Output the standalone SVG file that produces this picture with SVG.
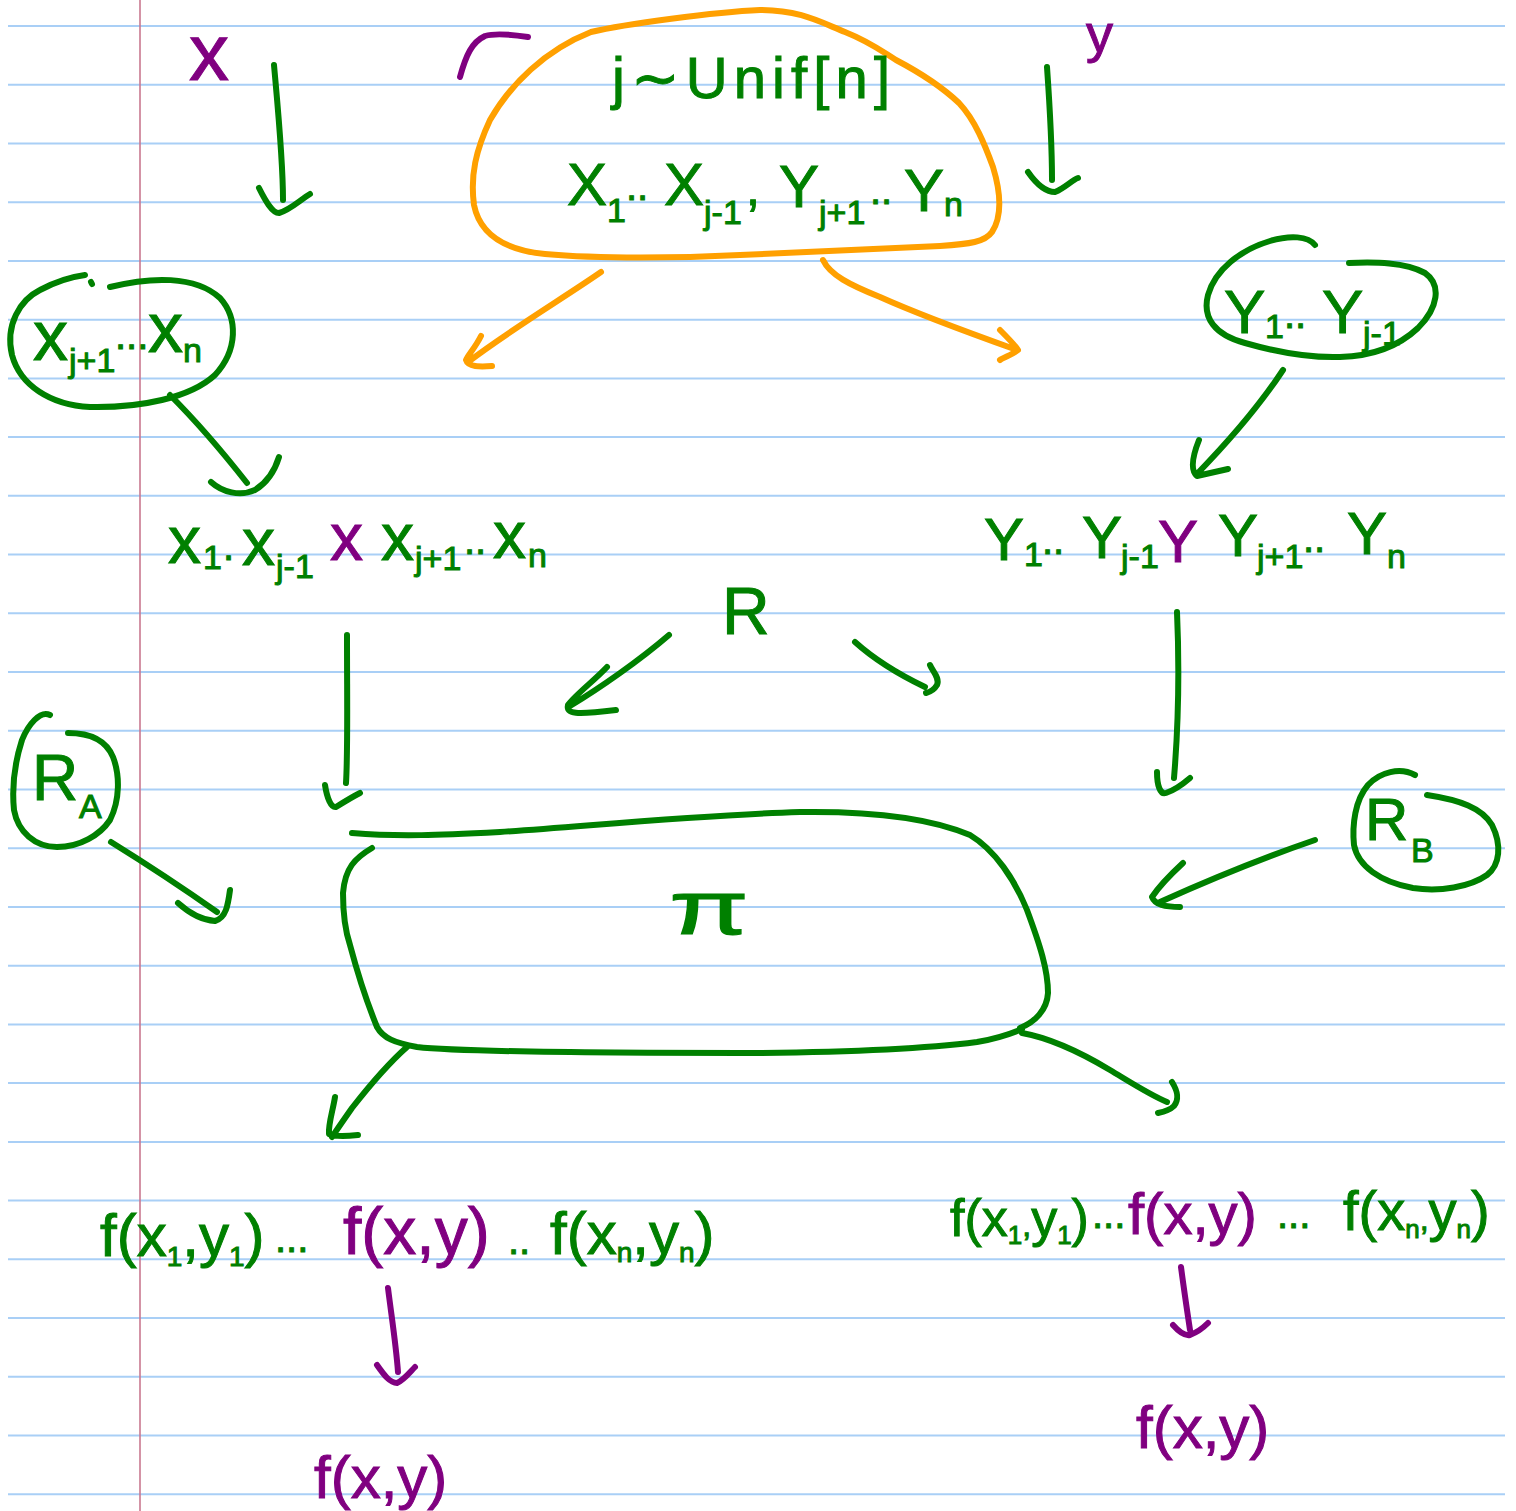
<svg xmlns="http://www.w3.org/2000/svg" width="1516" height="1511" viewBox="0 0 1516 1511">
<style>
.rule{stroke:#a9cff6;stroke-width:2}
.margin{stroke:#c97890;stroke-width:1.6}
.g{stroke:#008000;stroke-width:6;fill:none;stroke-linecap:round;stroke-linejoin:round}
.o{stroke:#ffa000;stroke-width:6;fill:none;stroke-linecap:round;stroke-linejoin:round}
.p{stroke:#800080;stroke-width:6;fill:none;stroke-linecap:round;stroke-linejoin:round}
text{font-family:"Liberation Sans","DejaVu Sans",Arial,sans-serif}
.tg{fill:#008000;stroke:#008000;stroke-width:1}
.tp{fill:#800080;stroke:#800080;stroke-width:1}
.sub{font-size:34px}
</style>
<rect width="1516" height="1511" fill="#ffffff"/>
<g id="paper">
<path class="rule" d="M8,26H1505M8,84.7H1505M8,143.5H1505M8,202.2H1505M8,260.9H1505M8,319.7H1505M8,378.4H1505M8,437.1H1505M8,495.8H1505M8,554.6H1505M8,613.3H1505M8,672H1505M8,730.8H1505M8,789.5H1505M8,848.2H1505M8,906.9H1505M8,965.7H1505M8,1024.4H1505M8,1083.1H1505M8,1141.9H1505M8,1200.6H1505M8,1259.3H1505M8,1318H1505M8,1376.8H1505M8,1435.5H1505M8,1494.2H1505"/>
<line class="margin" x1="140" y1="0" x2="140" y2="1511"/>
</g>

<g id="input-x">
<text class="tp" x="189" y="80" font-size="80">x</text>
</g>
<g id="input-y">
<text class="tp" x="1086" y="52" font-size="54">y</text>
</g>
<g id="stray-mark">
<path class="p" d="M460,77 C466,55 472,42 485,36 C495,33 515,35 528,37"/>
</g>

<g id="shared-random">
<path class="o" d="M591,32 C625,24 715,12 760,10 C800,10 820,22 845,32 C870,42 880,50 896,60 C915,70 940,85 959,103 C975,120 985,145 993,167 C1000,190 1003,215 992,232 C985,242 970,244 940,246 C870,249 800,252 740,255 C680,258 600,259 545,254 C505,250 480,235 474,205 C470,175 476,150 490,120 C510,85 545,50 591,32 Z"/>
<text class="tg" x="612" y="98" font-size="58" textLength="278" lengthAdjust="spacing">j∼Unif[n]</text>
<text class="tg" font-size="60">
<tspan x="567" y="205">X</tspan><tspan class="sub" x="607" y="222">1</tspan><tspan x="626" y="200" font-size="40">..</tspan><tspan x="664" y="205">X</tspan><tspan class="sub" x="704" y="224">j-1</tspan><tspan x="746" y="205" font-size="50">,</tspan><tspan x="779" y="207">Y</tspan><tspan class="sub" x="819" y="224">j+1</tspan><tspan x="870" y="204" font-size="40">..</tspan><tspan x="904" y="211">Y</tspan><tspan class="sub" x="944" y="216">n</tspan>
</text>
</g>

<g id="x-suffix">
<path class="g" d="M110,287 C150,277 195,275 220,298 C238,318 238,350 215,375 C190,398 140,408 90,407 C50,405 20,385 12,355 C5,325 20,300 40,290 C55,282 70,277 85,275 M91,282 L92,284"/>
<text class="tg" font-size="70">
<tspan x="33" y="360">x</tspan><tspan class="sub" x="69" y="372">j+1</tspan><tspan x="115" y="349" font-size="40">...</tspan><tspan x="148" y="352">x</tspan><tspan class="sub" x="183" y="362" font-size="32">n</tspan>
</text>
</g>

<g id="y-prefix">
<path class="g" d="M1315,245 C1308,236 1290,235 1270,241 C1240,250 1215,270 1208,295 C1202,318 1215,335 1245,343 C1280,353 1310,358 1340,357 C1375,356 1400,345 1418,328 C1438,308 1442,285 1425,273 C1405,262 1375,262 1349,263"/>
<text class="tg" font-size="62">
<tspan x="1224" y="333">Y</tspan><tspan class="sub" x="1265" y="338">1</tspan><tspan x="1284" y="328" font-size="40">..</tspan><tspan x="1322" y="333">Y</tspan><tspan class="sub" x="1363" y="345" font-size="38">j-1</tspan>
</text>
</g>

<g id="alice-input">
<text class="tg" font-size="66">
<tspan x="168" y="563">x</tspan><tspan class="sub" x="203" y="569">1</tspan><tspan x="223" y="560" font-size="40">.</tspan><tspan x="242" y="565">x</tspan><tspan class="sub" x="276" y="578">j-1</tspan><tspan class="tp" x="330" y="560">x</tspan><tspan x="381" y="560">x</tspan><tspan class="sub" x="415" y="570">j+1</tspan><tspan x="464" y="554" font-size="40">..</tspan><tspan x="493" y="558">x</tspan><tspan class="sub" x="528" y="567">n</tspan>
</text>
</g>

<g id="bob-input">
<text class="tg" font-size="60">
<tspan x="984" y="560">Y</tspan><tspan class="sub" x="1024" y="566" font-size="32">1</tspan><tspan x="1042" y="554" font-size="40">..</tspan><tspan x="1082" y="558">Y</tspan><tspan class="sub" x="1121" y="568" font-size="32">j-1</tspan><tspan class="tp" x="1158" y="562">Y</tspan><tspan x="1218" y="556">Y</tspan><tspan class="sub" x="1257" y="568" font-size="32">j+1</tspan><tspan x="1303" y="552" font-size="40">..</tspan><tspan x="1347" y="554">Y</tspan><tspan class="sub" x="1387" y="568" font-size="32">n</tspan>
</text>
</g>

<g id="public-random">
<text class="tg" x="722" y="634" font-size="66">R</text>
</g>

<g id="alice-random">
<path class="g" d="M50,715 C40,710 28,725 22,740 C14,765 12,790 14,810 C18,832 35,847 57,847 C80,847 100,835 110,820 C120,800 120,775 113,757 C106,740 90,733 68,733"/>
<text class="tg" font-size="64"><tspan x="32" y="800">R</tspan><tspan x="79" y="818" font-size="34">A</tspan></text>
</g>

<g id="bob-random">
<path class="g" d="M1415,775 C1400,767 1380,772 1368,785 C1355,800 1352,825 1354,845 C1358,866 1380,882 1413,888 C1440,892 1470,887 1487,875 C1500,865 1502,845 1492,825 C1482,808 1460,800 1427,795"/>
<text class="tg" font-size="60"><tspan x="1365" y="840">R</tspan><tspan x="1411" y="862" font-size="34">B</tspan></text>
</g>

<g id="protocol">
<path class="g" d="M352,833 C400,837 440,835 500,832 C600,825 700,815 800,812 C870,811 930,818 970,835 C995,850 1015,880 1027,910 C1040,945 1048,970 1048,993 C1047,1010 1035,1022 1020,1028"/>
<path class="g" d="M372,848 C355,858 345,868 343,893 C343,915 345,930 350,945 C358,975 368,1005 377,1027 C383,1038 395,1043 417,1047 C460,1052 600,1053 760,1053 C850,1052 930,1048 977,1042 C1000,1038 1015,1032 1022,1029"/>
<text class="tg" x="669" y="934" font-size="76" stroke-width="0" textLength="80" lengthAdjust="spacingAndGlyphs" font-family="DejaVu Sans, sans-serif">π</text>
</g>

<g id="alice-output">
<text class="tg" font-size="60">
<tspan x="100" y="1256">f(x</tspan><tspan dy="10" font-size="28">1</tspan><tspan dy="-10">,y</tspan><tspan dy="10" font-size="28">1</tspan><tspan dy="-10">)</tspan><tspan x="275" y="1252" font-size="40">...</tspan><tspan class="tp" x="343" y="1254" font-size="66">f(x,y)</tspan><tspan x="508" y="1254" font-size="40">..</tspan><tspan x="550" y="1254">f(x</tspan><tspan dy="8" font-size="28">n</tspan><tspan dy="-8">,y</tspan><tspan dy="8" font-size="28">n</tspan><tspan dy="-8">)</tspan>
</text>
</g>

<g id="bob-output">
<text class="tg" font-size="52">
<tspan x="950" y="1236">f(x</tspan><tspan dy="8" font-size="26">1</tspan><tspan dy="-8" font-size="32">,</tspan><tspan>y</tspan><tspan dy="8" font-size="26">1</tspan><tspan dy="-8">)</tspan><tspan x="1092" y="1228" font-size="40">...</tspan><tspan class="tp" x="1128" y="1234" font-size="58">f(x,y)</tspan><tspan x="1277" y="1228" font-size="40">...</tspan><tspan x="1343" y="1230" font-size="56">f(x</tspan><tspan dy="8" font-size="26">n</tspan><tspan dy="-8" font-size="32">,</tspan><tspan font-size="56">y</tspan><tspan dy="8" font-size="26">n</tspan><tspan dy="-8" font-size="56">)</tspan>
</text>
</g>

<g id="alice-answer">
<text class="tp" x="314" y="1498" font-size="60">f(x,y)</text>
</g>
<g id="bob-answer">
<text class="tp" x="1136" y="1448" font-size="60">f(x,y)</text>
</g>

<g id="connectors">
<path class="g" d="M274,65 C278,110 283,160 283,200 M259,188 C265,200 272,213 279,213 C290,210 300,200 310,194"/>
<path class="g" d="M1047,67 C1050,110 1052,150 1052,180 M1028,172 C1035,182 1045,192 1055,192 C1065,188 1072,180 1078,178"/>
<path class="o" d="M601,272 C565,297 510,330 468,362 M481,336 C475,348 468,355 466,360 C468,367 480,367 492,366"/>
<path class="o" d="M823,260 C830,275 850,285 880,297 C920,315 975,335 1017,350 M1000,330 C1008,338 1015,345 1018,350 C1012,355 1004,357 1000,360"/>
<path class="g" d="M170,395 C195,420 225,455 247,483 M211,482 C222,492 240,497 255,490 C268,482 275,470 279,457"/>
<path class="g" d="M1283,370 C1260,405 1230,440 1196,475 M1199,440 C1193,455 1190,470 1197,476 L1228,469"/>
<path class="g" d="M669,635 C640,660 600,688 570,706 M607,667 C595,680 575,695 568,705 C566,714 575,715 616,710"/>
<path class="g" d="M855,642 C875,660 900,675 925,687 M930,665 C933,672 940,678 937,685 C934,690 930,692 926,693"/>
<path class="g" d="M347,635 C347,700 348,750 346,783 M325,785 C327,798 331,808 336,807 C344,802 352,797 360,793"/>
<path class="g" d="M1177,612 C1180,680 1178,730 1174,778 M1157,772 C1157,785 1160,795 1166,793 C1175,790 1183,784 1190,778"/>
<path class="g" d="M111,842 C140,860 190,893 217,912 M178,903 C188,912 200,920 215,921 C226,918 228,905 230,890"/>
<path class="g" d="M1315,840 C1280,852 1220,875 1160,902 M1183,863 C1170,875 1158,888 1152,897 C1155,905 1165,907 1180,907"/>
<path class="g" d="M407,1047 C390,1062 370,1085 352,1108 C345,1118 338,1128 332,1137 M335,1097 C333,1110 328,1125 329,1134 C335,1137 348,1136 358,1135"/>
<path class="g" d="M1022,1033 C1050,1038 1080,1052 1110,1070 C1130,1082 1150,1095 1167,1102 M1172,1082 C1177,1090 1180,1098 1174,1106 C1170,1110 1163,1112 1158,1113"/>
<path class="p" d="M388,1288 C392,1320 396,1345 398,1372 M377,1365 C384,1375 390,1383 397,1383 C404,1380 410,1372 415,1367"/>
<path class="p" d="M1181,1267 C1184,1290 1187,1310 1190,1330 M1173,1325 C1180,1333 1185,1336 1190,1335 C1198,1332 1204,1327 1208,1323"/>
</g>
</svg>
